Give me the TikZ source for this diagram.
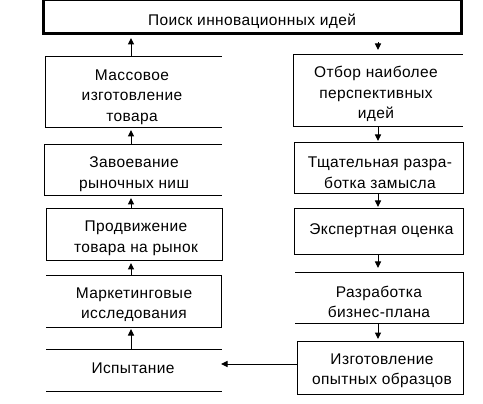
\documentclass[tikz,border=0pt]{standalone}
\usepackage{fontspec}
\setmainfont[LetterSpace=2.5]{Liberation Sans}
\usetikzlibrary{arrows.meta}
\begin{document}
\begin{tikzpicture}[x=1pt,y=-1pt,
 frame/.style={draw=none, rectangle, inner sep=0pt, outer sep=0pt},
 edge/.style={line width=1pt, line cap=rect},
 thick edge/.style={line width=3pt, line cap=rect},
 lbl/.style={font=\fontsize{15.5}{20.5}\selectfont, align=center, inner sep=0pt},
 arr/.style={line width=1pt, shorten >=2pt, -{Triangle[length=6.5pt,width=6pt]}}]
\useasboundingbox[fill=white] (0,0) rectangle (483,404);

% box frames
\node[frame, minimum width=418pt, minimum height=33pt] (top) at (252.5,17) {};
\node[frame, minimum width=176pt, minimum height=71pt] (m1) at (133,92.5) {};
\node[frame, minimum width=177pt, minimum height=51pt] (m2) at (132.5,170.5) {};
\node[frame, minimum width=176pt, minimum height=52pt] (m3) at (134,235) {};
\node[frame, minimum width=175pt, minimum height=51pt] (m4) at (133.5,301.5) {};
\node[frame, minimum width=175pt, minimum height=42pt] (m5) at (133.5,370) {};
\node[frame, minimum width=169pt, minimum height=72pt] (r1) at (377.5,91) {};
\node[frame, minimum width=169pt, minimum height=51pt] (r2) at (378.5,168.5) {};
\node[frame, minimum width=169pt, minimum height=46pt] (r3) at (378.5,232) {};
\node[frame, minimum width=168pt, minimum height=50pt] (r4) at (379,298) {};
\node[frame, minimum width=166pt, minimum height=53pt] (r5) at (380,367.5) {};

% labels
\node[lbl] (topt) at (252,21) {Поиск инновационных идей};
\node[lbl] (m1t) at (132,97) {Массовое\\изготовление\\товара};
\node[lbl] (m2t) at (134,174) {Завоевание\\рыночных ниш};
\node[lbl] (m3t) at (136,238.5) {Продвижение\\товара на рынок};
\node[lbl] (m4t) at (134,304.5) {Маркетинговые\\исследования};
\node[lbl] (m5t) at (133,368) {Испытание};
\node[lbl] (r1t) at (376,94) {Отбор наиболее\\перспективных\\идей};
\node[lbl] (r2t) at (380,172.5) {Тщательная разра-\\ботка замысла};
\node[lbl] (r3t) at (381.5,231) {Экспертная оценка};
\node[lbl] (r4t) at (379,302) {Разработка\\бизнес-плана};
\node[lbl] (r5t) at (382,371) {Изготовление\\опытных образцов};

% edges
\draw[edge] (top.north west) -- (top.north east);
\draw[thick edge] (top.north west) -- (top.south west) -- (top.south east) -- (top.north east);

\draw[edge] (m1.south east) -- (m1.south west) -- (m1.north west) -- (m1.north east);
\draw[edge] (m2.south east) -- (m2.south west) -- (m2.north west) -- (m2.north east);
\draw[edge] (m3.south west) rectangle (m3.north east);
\draw[edge] (m4.south west) -- (m4.south east) -- (m4.north east) -- (m4.north west);
\draw[edge] (m5.south west) -- (m5.south east);
\draw[edge] (m5.north west) -- (m5.north east);

\draw[edge] (r1.south east) -- (r1.south west) -- (r1.north west) -- (r1.north east);
\draw[edge] (r2.south west) rectangle (r2.north east);
\draw[edge] (r3.south west) rectangle (r3.north east);
\draw[edge] (r4.south west) -- (r4.south east) -- (r4.north east) -- (r4.north west);
\draw[edge] (r5.south west) rectangle (r5.north east);

% connectors
\coordinate (la) at (131,0);
\coordinate (ra) at (378,0);
\coordinate (hy) at (0,364);
\draw[arr, shorten >=4.5pt] (m1.north -| la) -- (top.south -| la);
\draw[arr] (m2.north -| la) -- (m1.south -| la);
\draw[arr] (m3.north -| la) -- (m2.south -| la);
\draw[arr] (m4.north -| la) -- (m3.south -| la);
\draw[arr] (m5.north -| la) -- (m4.south -| la);

\draw[arr, shorten <=9pt, shorten >=5pt] (top.south -| ra) -- (r1.north -| ra);
\draw[arr] (r1.south -| ra) -- (r2.north -| ra);
\draw[arr] (r2.south -| ra) -- (r3.north -| ra);
\draw[arr, shorten >=5pt] (r3.south -| ra) -- (r4.north -| ra);
\draw[arr] (r4.south -| ra) -- (r5.north -| ra);

\draw[arr, shorten >=0pt] (r5.west |- hy) -- (m5.east |- hy);
\end{tikzpicture}
\end{document}
